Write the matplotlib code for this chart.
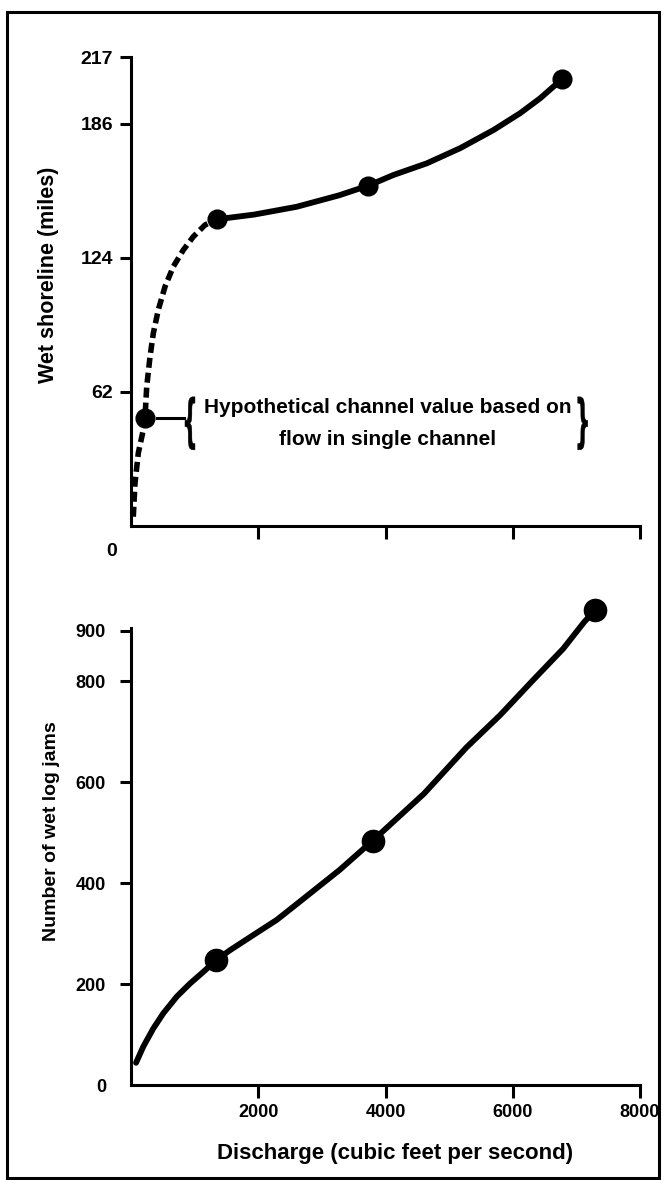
import matplotlib.pyplot as plt
from matplotlib.patches import Rectangle, PathPatch
from matplotlib.textpath import TextPath
from matplotlib.font_manager import FontProperties
from matplotlib.transforms import Affine2D, IdentityTransform

plt.rcParams['font.family'] = ['Liberation Sans', 'DejaVu Sans']
plt.rcParams['font.weight'] = 'bold'

# wet shoreline (miles) vs discharge (cfs)
shore_dash_x = [36, 63, 115, 193, 220, 247, 299, 351, 429, 535, 665, 822, 980, 1164, 1347]
shore_dash_y = [4.3, 19.9, 33.8, 44.4, 50, 64.5, 78.4, 89.2, 100, 110.8, 120, 127.7, 133.9, 139.3, 141.9]
shore_solid_x = [1347, 1937, 2604, 3270, 3731, 4124, 4649, 5173, 5697, 6116, 6431, 6640, 6772]
shore_solid_y = [141.9, 144.1, 147.7, 153, 157.5, 162.4, 167.8, 174.8, 183.2, 191, 197.9, 203.3, 206.6]
shore_pts_x = [220, 1347, 3731, 6772]
shore_pts_y = [50, 141.9, 157.5, 206.6]
shore_ticks = [62, 124, 186, 217]

# number of wet log jams vs discharge
jams_x = [79, 193, 351, 508, 719, 928, 1137, 1336, 1557, 1923, 2291, 2552, 3280, 3800,
          4606, 5268, 5798, 6329, 6793, 7124, 7300]
jams_y = [44, 76, 112, 142, 175, 201, 224, 247, 267, 297, 327, 353, 426, 484,
          577, 668, 732, 803, 864, 917, 941]
jams_pts_x = [1336, 3800, 7300]
jams_pts_y = [247, 484, 941]
jams_ticks = [0, 200, 400, 600, 800, 900]

q_ticks = [2000, 4000, 6000, 8000]

fig = plt.figure(figsize=(6.64, 11.8), dpi=100)
W, H = 664, 1180

# outer frame
fig.patches.append(Rectangle((7 / W, 2 / H), 652 / W, 1166 / H, transform=fig.transFigure,
                             fill=False, lw=2.2, ec='black'))

ax1 = fig.add_axes([131 / W, 1 - 526 / H, 509 / W, 469 / H])
ax2 = fig.add_axes([131 / W, 1 - 1085 / H, 509 / W, 457 / H])

for ax in (ax1, ax2):
    for s in ('top', 'right'):
        ax.spines[s].set_visible(False)
    for s in ('left', 'bottom'):
        ax.spines[s].set_linewidth(2.2)
    ax.set_xlim(0, 8000)
    ax.set_xticks(q_ticks)
    ax.tick_params(axis='x', direction='out', length=9, width=2.2)
    ax.tick_params(axis='y', direction='out', length=8, width=2.2)

# top panel
ax1.set_ylim(0, 217)
ax1.plot(shore_dash_x, shore_dash_y, color='black', lw=4, dashes=(1.8, 0.9), clip_on=False)
ax1.plot(shore_solid_x, shore_solid_y, color='black', lw=4.2, solid_joinstyle='round',
         solid_capstyle='round', clip_on=False)
ax1.plot(shore_pts_x, shore_pts_y, 'o', color='black', ms=13.5, clip_on=False)
ax1.set_yticks(shore_ticks)
ax1.set_yticklabels([str(t) for t in shore_ticks], fontsize=14, fontweight='bold')
ax1.tick_params(axis='y', pad=5)
ax1.set_xticklabels([])
ax1.text(-300, -12, '0', ha='center', va='center', fontsize=14, fontweight='bold')
ax1.set_ylabel('Wet shoreline (miles)', fontsize=15.5, fontweight='bold')
ax1.yaxis.set_label_coords(-0.141, 0.535)

# annotation for the hypothetical point
ax1.plot([409, 833], [shore_pts_y[0], shore_pts_y[0]], color='black', lw=2.2)
ax1.text(4040, 54.6, 'Hypothetical channel value based on', ha='center', va='center',
         fontsize=15, fontweight='bold')
ax1.text(4035, 40, 'flow in single channel', ha='center', va='center',
         fontsize=15, fontweight='bold')


def brace(ch, xd, yd, w, h):
    # thin tall brace: a glyph squeezed into a w x h pixel box centred on (xd, yd)
    tp = TextPath((0, 0), ch, size=1, prop=FontProperties(family='DejaVu Sans'))
    ext = tp.get_extents()
    cx, cy = ax1.transData.transform((xd, yd))
    tr = (Affine2D().translate(-ext.x0 - ext.width / 2, -ext.y0 - ext.height / 2)
          .scale(w / ext.width, h / ext.height).translate(cx, cy))
    fig.patches.append(PathPatch(tr.transform_path(tp), transform=IdentityTransform(),
                                 fc='black', ec='black', lw=0.3))


brace('{', 927, 47.5, 10, 53)
brace('}', 7100, 47.5, 10, 53)

# bottom panel
ax2.set_ylim(0, 905)
ax2.plot(jams_x, jams_y, color='black', lw=4.2, solid_joinstyle='round',
         solid_capstyle='round', clip_on=False)
ax2.plot(jams_pts_x, jams_pts_y, 'o', color='black', ms=16, clip_on=False)
ax2.set_yticks(jams_ticks)
ax2.set_yticklabels([str(t) for t in jams_ticks], fontsize=13, fontweight='bold')
ax2.yaxis.get_major_ticks()[0].tick1line.set_visible(False)
ax2.tick_params(axis='y', pad=10)
ax2.set_xticklabels([str(t) for t in q_ticks], fontsize=13, fontweight='bold')
ax2.tick_params(axis='x', pad=5)
ax2.set_ylabel('Number of wet log jams', fontsize=14, fontweight='bold')
ax2.yaxis.set_label_coords(-0.139, 0.556)
ax2.set_xlabel('Discharge (cubic feet per second)', fontsize=16, fontweight='bold')
ax2.xaxis.set_label_coords(0.519, -0.128)

fig.savefig('out.png', dpi=100, facecolor='white')
